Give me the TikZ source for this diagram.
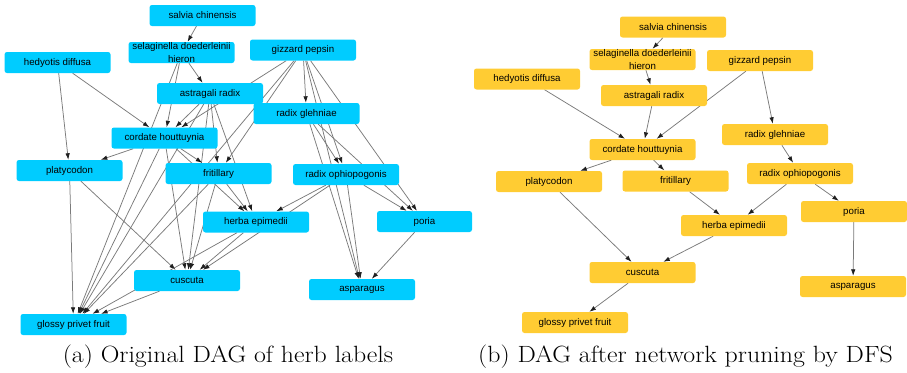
\documentclass[tikz,border=0pt]{standalone}
\usepackage{fontspec}
\setsansfont{Liberation Sans}
\usepackage{tikz}
\usetikzlibrary{arrows.meta, backgrounds}
\definecolor{herbblue}{RGB}{0,204,255}
\definecolor{herbgold}{RGB}{255,204,51}

\begin{document}
\begin{tikzpicture}[x=1pt, y=-1pt, line join=round,
  herb/.style={rectangle, rounded corners=2.5pt, minimum width=106pt, minimum height=21pt, inner sep=0pt, align=center, font=\sffamily\fontsize{9.7}{13}\selectfont},
  orig/.style={herb, fill=herbblue},
  pruned/.style={herb, fill=herbgold},
  link/.style={draw=black!52, line width=0.75pt, -{Latex[length=6.5pt, width=4.5pt, color=black!88]}},
  subcap/.style={anchor=base, inner sep=0pt, xscale=1.1, font=\fontsize{23.5}{27}\selectfont}]
\useasboundingbox (0,0) rectangle (907,372);
\node[orig] (sal) at (202.5,15.5) {salvia chinensis};
\node[orig] (sel) at (181.5,52.5) {selaginella doederleinii\\hieron};
\node[orig] (hed) at (57.5,62.5) {hedyotis diffusa};
\node[orig] (giz) at (303,50) {gizzard pepsin};
\node[orig] (ast) at (210,93.5) {astragali radix};
\node[orig] (gle) at (306.5,113.5) {radix glehniae};
\node[orig] (cor) at (164.5,138) {cordate houttuynia};
\node[orig] (pla) at (69.5,170.5) {platycodon};
\node[orig] (fri) at (218.5,173.5) {fritillary};
\node[orig] (oph) at (346,174.5) {radix ophiopogonis};
\node[orig] (her) at (256,222) {herba epimedii};
\node[orig, minimum width=95pt] (por) at (424.5,221.5) {poria};
\node[orig] (cus) at (187,280.5) {cuscuta};
\node[orig] (asp) at (362,289.5) {asparagus};
\node[orig] (glo) at (73.5,324.5) {glossy privet fruit};
\begin{pgfonlayer}{background}
\draw[link] (sal) -- (sel);
\draw[link] (sel) -- (ast);
\draw[link] (sel) -- (cor);
\draw[link] (sel) -- (glo);
\draw[link] (hed) -- (cor);
\draw[link] (hed) -- (pla);
\draw[link] (giz) -- (cor);
\draw[link] (giz) -- (fri);
\draw[link] (giz) -- (gle);
\draw[link] (giz) -- (oph);
\draw[link] (giz) -- (asp);
\draw[link] (giz) -- (por);
\draw[link] (giz) -- (glo);
\draw[link] (gle) -- (oph);
\draw[link] (gle) -- (asp);
\draw[link] (gle) -- (por);
\draw[link] (ast) -- (cor);
\draw[link] (ast) -- (fri);
\draw[link] (ast) -- (her);
\draw[link] (ast) -- (cus);
\draw[link] (ast) -- (glo);
\draw[link] (cor) -- (pla);
\draw[link] (cor) -- (fri);
\draw[link] (cor) -- (her);
\draw[link] (cor) -- (cus);
\draw[link] (cor) -- (glo);
\draw[link] (pla) -- (cus);
\draw[link] (pla) -- (glo);
\draw[link] (fri) -- (her);
\draw[link] (fri) -- (cus);
\draw[link] (fri) -- (glo);
\draw[link] (oph) -- (her);
\draw[link] (oph) -- (por);
\draw[link] (oph) -- (asp);
\draw[link] (oph) -- (cus);
\draw[link] (her) -- (cus);
\draw[link] (her) -- (glo);
\draw[link] (cus) -- (glo);
\draw[link] (por) -- (asp);
\end{pgfonlayer}
\node[pruned] (sal2) at (673,27) {salvia chinensis};
\node[pruned] (sel2) at (642.5,59.5) {selaginella doederleinii\\hieron};
\node[pruned] (hed2) at (527,79) {hedyotis diffusa};
\node[pruned] (giz2) at (760,60.5) {gizzard pepsin};
\node[pruned] (ast2) at (654,95.5) {astragali radix};
\node[pruned] (gle2) at (775,134.5) {radix glehniae};
\node[pruned] (cor2) at (642.5,149.5) {cordate houttuynia};
\node[pruned] (pla2) at (549,181.5) {platycodon};
\node[pruned] (fri2) at (675.5,181) {fritillary};
\node[pruned] (oph2) at (800,173.5) {radix ophiopogonis};
\node[pruned] (her2) at (734,225.5) {herba epimedii};
\node[pruned] (por2) at (854,211.5) {poria};
\node[pruned] (cus2) at (642.5,272.5) {cuscuta};
\node[pruned] (asp2) at (853,286.5) {asparagus};
\node[pruned] (glo2) at (575,322.5) {glossy privet fruit};
\begin{pgfonlayer}{background}
\draw[link] (sal2) -- (sel2);
\draw[link] (sel2) -- (ast2);
\draw[link] (ast2) -- (cor2);
\draw[link] (hed2) -- (cor2);
\draw[link] (giz2) -- (cor2);
\draw[link] (giz2) -- (gle2);
\draw[link] (gle2) -- (oph2);
\draw[link] (cor2) -- (pla2);
\draw[link] (cor2) -- (fri2);
\draw[link] (fri2) -- (her2);
\draw[link] (oph2) -- (her2);
\draw[link] (oph2) -- (por2);
\draw[link] (por2) -- (asp2);
\draw[link] (pla2) -- (cus2);
\draw[link] (her2) -- (cus2);
\draw[link] (cus2) -- (glo2);
\end{pgfonlayer}
\node[subcap] (capa) at (228,362) {(a) Original DAG of herb labels};
\node[subcap] (capb) at (685.5,362) {(b) DAG after network pruning by DFS};
\end{tikzpicture}
\end{document}
